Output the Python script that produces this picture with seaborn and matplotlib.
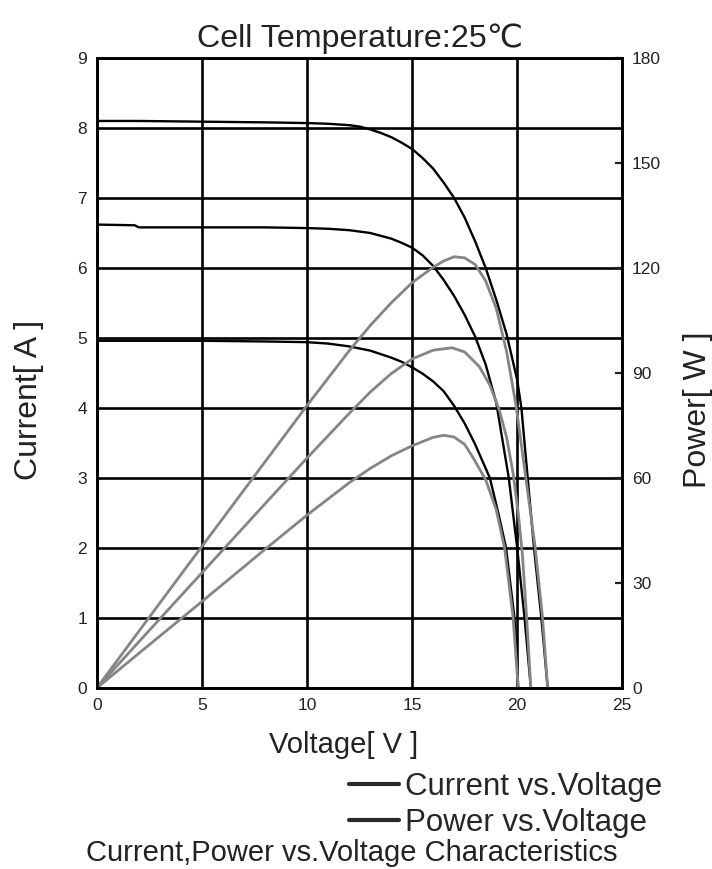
import seaborn as sns
import matplotlib.pyplot as plt
from matplotlib.lines import Line2D

# I-V curves (three irradiance levels)
v_cur_high = [0, 2, 5, 8, 10, 11, 12, 12.5, 13, 13.5, 14, 14.5, 15, 15.5, 16, 16.5, 17, 17.5, 18, 18.5, 19, 19.5, 20, 20.2, 20.5, 20.8, 21.15, 21.45]
i_cur_high = [8.10, 8.10, 8.09, 8.08, 8.07, 8.06, 8.04, 8.02, 7.98, 7.93, 7.87, 7.79, 7.70, 7.57, 7.42, 7.22, 7.00, 6.72, 6.38, 6.00, 5.55, 5.05, 4.40, 4.0, 3.0, 2.0, 1.0, 0.0]

v_cur_mid = [0, 1.8, 2, 5, 8, 10, 11, 12, 12.5, 13, 13.5, 14, 14.5, 15, 15.5, 16, 16.5, 17, 17.5, 18, 18.5, 19, 19.6, 20.0, 20.35, 20.65]
i_cur_mid = [6.62, 6.61, 6.58, 6.58, 6.58, 6.57, 6.56, 6.54, 6.52, 6.50, 6.46, 6.42, 6.36, 6.29, 6.18, 6.03, 5.83, 5.60, 5.33, 5.02, 4.62, 4.08, 3.0, 2.0, 1.0, 0.0]

v_cur_low = [0, 5, 8, 10, 11, 12, 12.5, 13, 13.5, 14, 14.5, 15, 15.5, 16, 16.5, 17, 17.5, 18, 18.7, 19.1, 19.47, 19.87, 20.05]
i_cur_low = [4.96, 4.96, 4.95, 4.94, 4.92, 4.88, 4.85, 4.82, 4.77, 4.72, 4.66, 4.58, 4.49, 4.38, 4.24, 4.03, 3.78, 3.48, 3.0, 2.5, 2.0, 1.0, 0.0]

# P-V curves
v_pow_high = [0, 2, 4, 6, 8, 10, 12, 13, 14, 15, 16, 16.5, 17, 17.5, 18, 18.5, 19, 19.5, 19.95, 20.4, 20.85, 21.2, 21.45]
p_pow_high = [0, 16.2, 32.4, 48.5, 64.6, 80.7, 96.3, 103.5, 110.0, 115.8, 120.2, 122.0, 123.2, 122.9, 121.0, 116.3, 108.5, 96.0, 80.5, 60.5, 40.4, 20.4, 0]

v_pow_mid = [0, 2, 5, 8, 10, 12, 13, 14, 15, 16, 16.9, 17.5, 18.2, 18.7, 19.15, 19.5, 19.8, 20.05, 20.25, 20.45, 20.65]
p_pow_mid = [0, 13.2, 32.9, 52.6, 65.7, 78.4, 84.5, 89.8, 94.0, 96.5, 97.2, 96.0, 91.8, 86.5, 79.4, 71.5, 61.5, 50.0, 38.0, 20.0, 0]

v_pow_low = [0, 2, 5, 8, 10, 12, 13, 14, 15, 16, 16.5, 17, 17.5, 17.9, 18.5, 19.0, 19.4, 19.8, 20.05]
p_pow_low = [0, 9.9, 24.7, 39.6, 49.4, 58.6, 62.7, 66.3, 69.2, 71.6, 72.2, 71.7, 69.6, 65.8, 59.5, 51.0, 40.0, 20.4, 0]

x_ticks = [0, 5, 10, 15, 20, 25]
cur_ticks = [0, 1, 2, 3, 4, 5, 6, 7, 8, 9]
pow_ticks = [0, 30, 60, 90, 120, 150, 180]

sns.set_style('white')
plt.rcParams['font.family'] = ['Liberation Sans', 'DejaVu Sans']

fig = plt.figure(figsize=(7.12, 8.69), dpi=100)
ax = fig.add_axes([0.136, 0.2083, 0.738, 0.725])
ax2 = ax.twinx()

for v, i in [(v_cur_high, i_cur_high), (v_cur_mid, i_cur_mid), (v_cur_low, i_cur_low)]:
    sns.lineplot(x=v, y=i, ax=ax, color='black', lw=1.7, sort=False, zorder=3)

for v, p in [(v_pow_high, p_pow_high), (v_pow_mid, p_pow_mid), (v_pow_low, p_pow_low)]:
    sns.lineplot(x=v, y=p, ax=ax2, color='#858585', lw=2.0, sort=False)

ax.set_xlim(0, 25)
ax.set_ylim(0, 9)
ax2.set_ylim(0, 180)
ax.set_xticks(x_ticks)
ax.set_yticks(cur_ticks)
ax2.set_yticks(pow_ticks)

ax.grid(True, color='black', lw=1.9)
ax.set_axisbelow(True)
for a in (ax, ax2):
    for s in a.spines.values():
        s.set_color('black')
        s.set_linewidth(1.9)

ax.tick_params(length=0, labelsize=12.5, pad=7, colors='#222222')
ax2.tick_params(axis='y', direction='in', length=5, width=1.6, labelsize=12.5, pad=7, colors='#222222')

ax.set_title('Cell Temperature:25℃', fontsize=23.2, pad=8, color='#222222')
ax.set_xlabel('Voltage[ V ]', fontsize=21, color='#222222')
ax.xaxis.set_label_coords(0.47, -0.068)
ax.set_ylabel('Current[ A ]', fontsize=23, color='#222222')
ax.yaxis.set_label_coords(-0.101, 0.457)
ax2.set_ylabel('Power[ W ]', fontsize=23, color='#222222')
ax2.yaxis.set_label_coords(1.116, 0.441)

handles = [Line2D([], [], color='#2a2a2a', lw=3), Line2D([], [], color='#2a2a2a', lw=3)]
fig.legend(handles, ['Current vs.Voltage', 'Power vs.Voltage'], loc='upper left',
           bbox_to_anchor=(0.49, 0.112), frameon=False, fontsize=22.5,
           handlelength=1.6, handletextpad=0.2, borderpad=0, borderaxespad=0,
           labelspacing=0.2)

fig.text(0.494, 0.0095, 'Current,Power vs.Voltage Characteristics', ha='center', va='baseline',
         fontsize=21, color='#222222')

fig.savefig('out.png', dpi=100)
